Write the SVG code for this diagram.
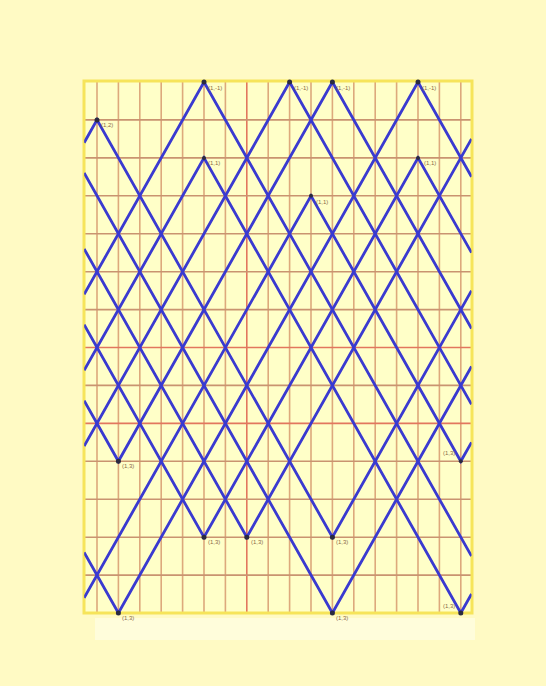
<svg xmlns="http://www.w3.org/2000/svg" width="546" height="686" viewBox="0 0 546 686">
<style>
.v{stroke:#DDA97C;stroke-width:1.6}
.h{stroke:#C99470;stroke-width:1.6}
.r{stroke:#E2775E;stroke-width:1.6}
.p{fill:none;stroke:#3A3AD0;stroke-width:2.8;stroke-linejoin:miter;vector-effect:non-scaling-stroke}
.d{fill:#2A2A40}
.t{font-family:"Liberation Sans",Arial,sans-serif;font-size:6px;fill:#8A6A48}
</style>
<defs>
<clipPath id="clip"><rect x="-0.6" y="0" width="18.1" height="14"/></clipPath>
</defs>
<rect width="546" height="686" fill="#FFFAC4"/>
<rect x="95" y="618" width="380" height="22" fill="#FFFEE6" opacity="0.7"/>
<rect x="84" y="82" width="388" height="531" fill="#FFFFC8"/>
<g id="grid">
<path class="v" d="M97 82V613M118.4 82V613M139.8 82V613M161.2 82V613M182.6 82V613M204 82V613M225.4 82V613M268.2 82V613M289.6 82V613M311 82V613M332.4 82V613M353.8 82V613M375.2 82V613M396.6 82V613M418 82V613M439.4 82V613M460.8 82V613"/>
<path class="r" d="M246.8 82V613"/>
<path class="h" d="M84 119.9H472M84 157.9H472M84 195.8H472M84 233.7H472M84 271.7H472M84 309.6H472M84 385.4H472M84 461.3H472M84 499.2H472M84 537.2H472M84 575.1H472"/>
<path class="r" d="M84 347.5H472M84 423.4H472"/>
<rect x="84" y="81" width="388" height="532" fill="none" stroke="#F6E45A" stroke-width="3"/>
</g>
<g id="paths" transform="matrix(21.4 0 0 37.93 97 82)" clip-path="url(#clip)">
<polyline class="p" points="-0.6,5.6 5,0 17.5,12.5"/>
<polyline class="p" points="-0.6,9.6 9,0 17.5,8.5"/>
<polyline class="p" points="-0.6,8.4 1,10 11,0 17.5,6.5"/>
<polyline class="p" points="-0.6,12.4 1,14 15,0 17.5,2.5"/>
<polyline class="p" points="-0.6,1.6 0,1 11,12 17.5,5.5"/>
<polyline class="p" points="-0.6,7.6 5,2 17,14 17.5,13.5"/>
<polyline class="p" points="-0.6,6.4 5,12 15,2 17.5,4.5"/>
<polyline class="p" points="-0.6,13.6 10,3 17,10 17.5,9.5"/>
<polyline class="p" points="-0.6,4.4 7,12 17.5,1.5"/>
<polyline class="p" points="-0.6,2.4 11,14 17.5,7.5"/>
</g>
<g id="vertices">
<circle class="d" cx="204" cy="82" r="2.5"/>
<circle class="d" cx="289.6" cy="82" r="2.5"/>
<circle class="d" cx="332.4" cy="82" r="2.5"/>
<circle class="d" cx="418" cy="82" r="2.5"/>
<circle class="d" cx="97" cy="119.9" r="2.5"/>
<circle class="d" cx="204" cy="157.9" r="2"/>
<circle class="d" cx="418" cy="157.9" r="2"/>
<circle class="d" cx="311" cy="195.8" r="2"/>
<circle class="d" cx="118.4" cy="461.3" r="2.5"/>
<circle class="d" cx="460.8" cy="461.3" r="2"/>
<circle class="d" cx="204" cy="537.2" r="2.5"/>
<circle class="d" cx="246.8" cy="537.2" r="2.5"/>
<circle class="d" cx="332.4" cy="537.2" r="2.5"/>
<circle class="d" cx="118.4" cy="613" r="2.5"/>
<circle class="d" cx="332.4" cy="613" r="2.5"/>
<circle class="d" cx="460.8" cy="613" r="2.5"/>
</g>
<g id="labels">
<text class="t" x="208" y="90">(1,-1)</text>
<text class="t" x="294" y="90">(1,-1)</text>
<text class="t" x="336" y="90">(1,-1)</text>
<text class="t" x="422" y="90">(1,-1)</text>
<text class="t" x="101" y="127">(1,2)</text>
<text class="t" x="208" y="165">(1,1)</text>
<text class="t" x="424" y="165">(1,1)</text>
<text class="t" x="316" y="204">(1,1)</text>
<text class="t" x="122" y="468">(1,3)</text>
<text class="t" x="443" y="455">(1,3)</text>
<text class="t" x="208" y="544">(1,3)</text>
<text class="t" x="251" y="544">(1,3)</text>
<text class="t" x="336" y="544">(1,3)</text>
<text class="t" x="122" y="620">(1,3)</text>
<text class="t" x="336" y="620">(1,3)</text>
<text class="t" x="443" y="608">(1,3)</text>
</g>
</svg>
